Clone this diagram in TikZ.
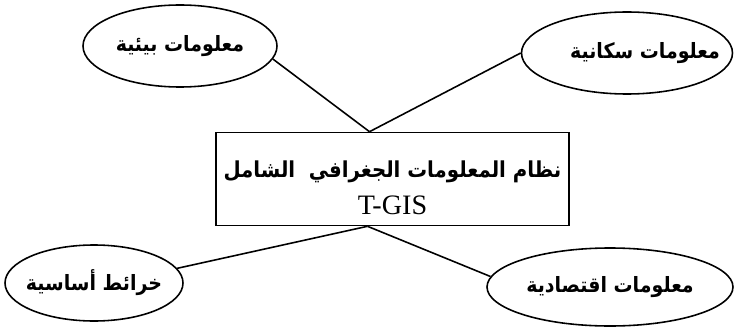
\documentclass[tikz,border=0pt]{standalone}
\usepackage{fontspec}
\setmainfont{Liberation Serif}
\newfontfamily\arabicfont[Script=Arabic]{DejaVu Sans Condensed}
\TeXXeTstate=1
\usetikzlibrary{shapes.geometric}

\begin{document}
\begin{tikzpicture}[line width=0.9pt,
  topic/.style={draw, ellipse, inner sep=0pt, font=\arabicfont\bfseries\fontsize{12}{14}\selectfont}]
  % page
  \fill[white] (0,0) rectangle (14.7,6.52);
  \useasboundingbox (0,0) rectangle (14.7,6.52);

  % central system
  \node[draw, minimum width=7.06cm, minimum height=1.86cm, align=center, font=\fontsize{16}{18}\selectfont] (gis) at (7.85,2.94)
    {{\arabicfont\bfseries\fontsize{12.5}{18}\selectfont\rule{0pt}{20pt}\beginR نظام المعلومات الجغرافي\ \ الشامل\endR}\\[3pt]T-GIS};

  % data sources
  \node[topic, minimum width=3.88cm, minimum height=1.64cm] (env) at (3.6,5.6) {\makebox[0pt]{\beginR معلومات بيئية\endR}};
  \node[topic, minimum width=4.22cm, minimum height=1.64cm] (pop) at (12.54,5.46) {\makebox[0pt]{\hspace*{0.72cm}\beginR معلومات سكانية\endR}};
  \node[topic, minimum width=3.56cm, minimum height=1.52cm] (maps) at (1.88,0.86) {\makebox[0pt]{\beginR خرائط أساسية\endR}};
  \node[topic, minimum width=4.92cm, minimum height=1.56cm] (econ) at (12.2,0.78) {\makebox[0pt]{\beginR معلومات اقتصادية\endR}};

  % links
  \coordinate (gis top) at ([xshift=-0.46cm]gis.north);
  \coordinate (gis bottom) at ([xshift=-0.5cm]gis.south);
  \draw (env.-8) -- (gis top);
  \draw (pop.west) -- (gis top);
  \draw (maps.10) -- (gis bottom);
  \draw (econ.175) -- (gis bottom);
\end{tikzpicture}
\end{document}
